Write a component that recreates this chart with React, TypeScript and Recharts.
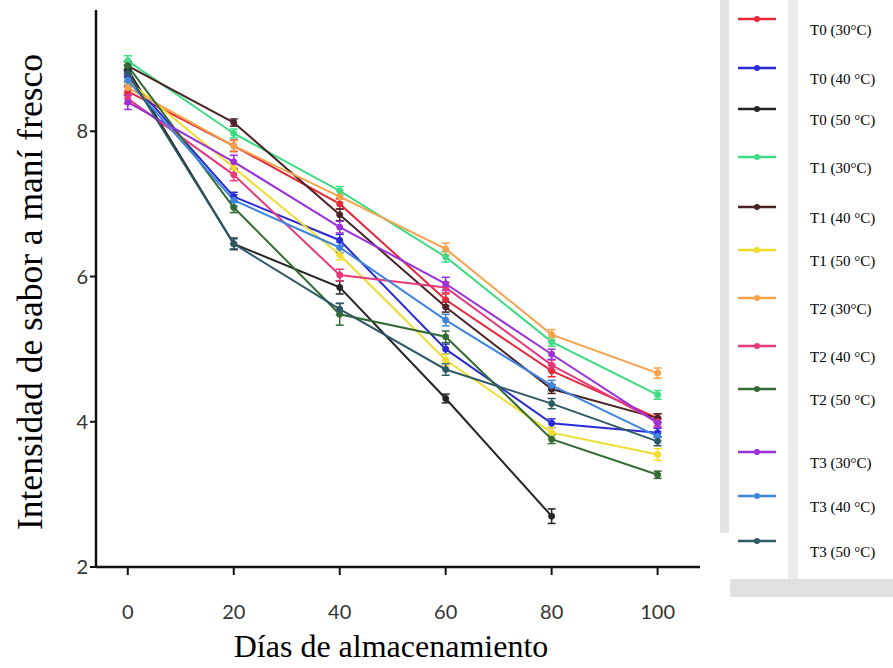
import React from 'react';
import { LineChart, Line, XAxis, YAxis, ErrorBar, Legend } from 'recharts';

const days = [0, 20, 40, 60, 80, 100];

const t0_30 = [8.55, 7.8, 7.0, 5.68, 4.7, 4.05];
const t0_40 = [8.75, 7.1, 6.5, 5.0, 3.98, 3.85];
const t0_50 = [8.85, 6.45, 5.85, 4.32, 2.7, null];
const t1_30 = [8.97, 7.97, 7.18, 6.27, 5.1, 4.37];
const t1_40 = [8.9, 8.12, 6.85, 5.58, 4.45, 4.05];
const t1_50 = [8.7, 7.5, 6.3, 4.85, 3.85, 3.55];
const t2_30 = [8.6, 7.8, 7.1, 6.38, 5.2, 4.67];
const t2_40 = [8.45, 7.4, 6.02, 5.85, 4.78, 4.0];
const t2_50 = [8.9, 6.95, 5.48, 5.17, 3.76, 3.27];
const t3_30 = [8.4, 7.58, 6.68, 5.9, 4.93, 3.98];
const t3_40 = [8.7, 7.05, 6.4, 5.4, 4.5, 3.8];
const t3_50 = [8.8, 6.45, 5.55, 4.72, 4.25, 3.73];

const e0_30 = [0.06, 0.08, 0.07, 0.08, 0.08, 0.06];
const e0_40 = [0.07, 0.06, 0.08, 0.07, 0.06, 0.06];
const e0_50 = [0.06, 0.08, 0.09, 0.06, 0.1, null];
const e1_30 = [0.07, 0.06, 0.06, 0.07, 0.06, 0.06];
const e1_40 = [0.06, 0.05, 0.08, 0.07, 0.06, 0.06];
const e1_50 = [0.06, 0.07, 0.07, 0.08, 0.07, 0.08];
const e2_30 = [0.07, 0.07, 0.08, 0.08, 0.07, 0.07];
const e2_40 = [0.07, 0.08, 0.08, 0.07, 0.07, 0.06];
const e2_50 = [0.06, 0.07, 0.15, 0.08, 0.06, 0.05];
const e3_30 = [0.1, 0.09, 0.08, 0.09, 0.07, 0.06];
const e3_40 = [0.07, 0.08, 0.07, 0.08, 0.07, 0.06];
const e3_50 = [0.06, 0.07, 0.08, 0.08, 0.07, 0.06];

const seriesNames = [
  'T0 (30°C)', 'T0 (40 °C)', 'T0 (50 °C)',
  'T1 (30°C)', 'T1 (40 °C)', 'T1 (50 °C)',
  'T2 (30°C)', 'T2 (40 °C)', 'T2 (50 °C)',
  'T3 (30°C)', 'T3 (40 °C)', 'T3 (50 °C)',
];
const seriesValues = [t0_30, t0_40, t0_50, t1_30, t1_40, t1_50, t2_30, t2_40, t2_50, t3_30, t3_40, t3_50];
const seriesErrors = [e0_30, e0_40, e0_50, e1_30, e1_40, e1_50, e2_30, e2_40, e2_50, e3_30, e3_40, e3_50];
const seriesColors = [
  '#e6283a', '#2b2bd6', '#252525',
  '#3ddc84', '#4b2326', '#f0dc2a',
  '#f5a24a', '#e63b7a', '#336b33',
  '#9b30d9', '#3d85e0', '#2e5a66',
];
const legendTextY = [30, 79, 120, 168, 218, 261, 309, 357, 400, 463, 507, 552];

const xTicks = [0, 20, 40, 60, 80, 100];
const yTicks = [2, 4, 6, 8];

const data = days.map((d, i) => {
  const row: any = { day: d };
  seriesValues.forEach((s, k) => {
    row['s' + k] = s[i];
    row['e' + k] = seriesErrors[k][i];
  });
  return row;
});

const renderLegend = () => (
  <div style={{ position: 'relative', width: 193, height: 668 }}>
    <div style={{ position: 'absolute', left: 20, top: 0, width: 9, height: 533, background: '#e3e3e3' }} />
    <div style={{ position: 'absolute', left: 88, top: 0, width: 10, height: 580, background: '#ececec' }} />
    <div style={{ position: 'absolute', left: 30, top: 579, width: 163, height: 18, background: '#e0e0e0' }} />
    <svg width={193} height={668} style={{ position: 'absolute', left: 0, top: 0 }}>
      {seriesNames.map((n, k) => {
        const ty = legendTextY[k];
        const ly = ty - 11;
        return (
          <g key={n}>
            <line x1={38} x2={76} y1={ly} y2={ly} stroke={seriesColors[k]} strokeWidth={2.5} />
            <circle cx={57} cy={ly} r={3} fill={seriesColors[k]} />
            <text x={110} y={ty} dominantBaseline="central" fontFamily="'Liberation Serif', 'Times New Roman', serif" fontSize={15} fill="#000">
              {n}
            </text>
          </g>
        );
      })}
    </svg>
  </div>
);

export default function App() {
  return (
    <div style={{ position: 'absolute', left: 0, top: 0, width: 893, height: 668, background: '#fff' }}>
      <LineChart width={893} height={668} data={data} margin={{ top: 10, right: 193, bottom: 1, left: 56 }}>
        <XAxis
          dataKey="day"
          type="number"
          domain={[-6, 108]}
          ticks={xTicks}
          allowDataOverflow
          height={100}
          axisLine={{ stroke: '#111', strokeWidth: 2.5 }}
          tickLine={{ stroke: '#111', strokeWidth: 2 }}
          tickSize={8}
          tickMargin={30}
          tick={{ fill: '#333', fontSize: 20, fontFamily: 'Lato' }}
          label={{
            content: () => (
              <text x={391} y={657} textAnchor="middle" fontFamily="'Liberation Serif', 'Times New Roman', serif" fontSize={32} fill="#000">
                Días de almacenamiento
              </text>
            ),
          }}
        />
        <YAxis
          type="number"
          domain={[2, 9.67]}
          ticks={yTicks}
          allowDataOverflow
          width={40}
          axisLine={{ stroke: '#111', strokeWidth: 2.5 }}
          tickLine={{ stroke: '#111', strokeWidth: 2 }}
          tickSize={6}
          tickMargin={2}
          tick={{ fill: '#333', fontSize: 20, fontFamily: 'Lato' }}
          label={{
            content: () => (
              <text x={30} y={292} transform="rotate(-90 30 292)" textAnchor="middle" dominantBaseline="central" fontFamily="'Liberation Serif', 'Times New Roman', serif" fontSize={35.5} fill="#000">
                Intensidad de sabor a maní fresco
              </text>
            ),
          }}
        />
        <Legend content={renderLegend} layout="horizontal" align="center" verticalAlign="middle"
          wrapperStyle={{ position: 'absolute', left: 700, top: 0, width: 193, height: 668 }} />
        {seriesNames.map((n, k) => (
          <Line
            key={n}
            name={n}
            dataKey={'s' + k}
            stroke={seriesColors[k]}
            strokeWidth={2}
            dot={{ r: 3, fill: seriesColors[k], stroke: seriesColors[k], strokeWidth: 1 }}
            isAnimationActive={false}
          >
            <ErrorBar dataKey={'e' + k} width={4} strokeWidth={1.5} stroke={seriesColors[k]} direction="y" />
          </Line>
        ))}
      </LineChart>
    </div>
  );
}
